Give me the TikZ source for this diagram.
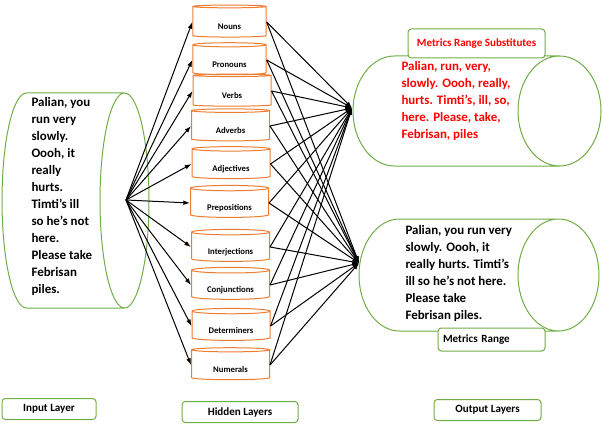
\documentclass[tikz,border=0pt]{standalone}
\usepackage{fontspec}
\setmainfont{Carlito}
\usetikzlibrary{shapes.geometric,arrows.meta}
\definecolor{leafgreen}{RGB}{112,173,71}
\definecolor{canorange}{RGB}{237,125,49}
\definecolor{subred}{RGB}{255,0,0}
\tikzset{every picture/.style={line width=0.75pt}}

\begin{document}
\begin{tikzpicture}[x=0.75pt,y=0.75pt,yscale=-1,xscale=1,
  bigcan/.style={draw=leafgreen},
  wordcan/.style={cylinder, shape border rotate=90, draw=canorange, aspect=0.12, minimum width=58.5pt, minimum height=24pt, inner sep=0pt, text height=11.5pt, text depth=0pt, font=\fontsize{6.5}{7}\selectfont\bfseries},
  tag/.style={draw=leafgreen, rounded corners=2.5pt, minimum height=15.75pt, inner sep=0pt, font=\fontsize{8.3}{10}\selectfont\bfseries},
  bodytext/.style={anchor=north west, inner sep=0pt, align=left, font=\fontsize{9.7}{12.75}\selectfont\bfseries},
  link/.style={-{Latex[length=5pt,width=3.5pt]}}]
\useasboundingbox (0,0) rectangle (603,428);

%Shape: Can [id:input]
\draw [bigcan] (26.5,93) -- (124.5,93) (26.5,308) -- (124.5,308) (124.5,200.5) ellipse (24.5 and 107.5) (26.5,93) arc (270:90:24.5 and 107.5) ;
%Shape: Can [id:substitutes]
\draw [bigcan] (394.5,56) -- (559.5,56) (394.5,166) -- (559.5,166) (559.5,111) ellipse (41.5 and 55) (394.5,56) arc (270:90:41.5 and 55) ;
%Shape: Can [id:range]
\draw [bigcan] (399.5,219) -- (558.5,219) (399.5,331) -- (558.5,331) (558.5,275) ellipse (40.5 and 56) (399.5,219) arc (270:90:40.5 and 56) ;

%Shape: Can [id:words]
\node [wordcan, minimum width=55pt] (nouns) at (229.5,22) {Nouns};
\node [wordcan, minimum width=55pt] (pronouns) at (229.5,60) {Pronouns};
\node [wordcan] (verbs) at (232,91) {Verbs};
\node [wordcan] (adverbs) at (230.5,126) {Adverbs};
\node [wordcan] (adjectives) at (231,164) {Adjectives};
\node [wordcan] (prepositions) at (229.5,203) {Prepositions};
\node [wordcan] (interjections) at (230.5,247) {Interjections};
\node [wordcan] (conjunctions) at (230.5,285) {Conjunctions};
\node [wordcan] (determiners) at (231,326) {Determiners};
\node [wordcan] (numerals) at (230.5,365) {Numerals};

\coordinate (inhub) at (126,200);
\coordinate (subhub) at (352,108);
\coordinate (rangehub) at (359,263);

%Straight Lines [id:input to hidden]
\draw [link] (inhub) -- (nouns.west);
\draw [link] (inhub) -- (pronouns.west);
\draw [link] (inhub) -- (verbs.west);
\draw [link] (inhub) -- (adverbs.west);
\draw [link] (inhub) -- (adjectives.west);
\draw [link] (inhub) -- (prepositions.west);
\draw [link] (inhub) -- (interjections.west);
\draw [link] (inhub) -- (conjunctions.west);
\draw [link] (inhub) -- (determiners.west);
\draw [link] (inhub) -- (numerals.west);
%Straight Lines [id:hidden to substitutes]
\draw [link] (nouns.east) -- (subhub);
\draw [link] (pronouns.east) -- (subhub);
\draw [link] (verbs.east) -- (subhub);
\draw [link] (adverbs.east) -- (subhub);
\draw [link] (adjectives.east) -- (subhub);
\draw [link] (prepositions.east) -- (subhub);
\draw [link] (interjections.east) -- (subhub);
\draw [link] (conjunctions.east) -- (subhub);
\draw [link] (determiners.east) -- (subhub);
\draw [link] (numerals.east) -- (subhub);
%Straight Lines [id:hidden to range]
\draw [link] (nouns.east) -- (rangehub);
\draw [link] (pronouns.east) -- (rangehub);
\draw [link] (verbs.east) -- (rangehub);
\draw [link] (adverbs.east) -- (rangehub);
\draw [link] (adjectives.east) -- (rangehub);
\draw [link] (prepositions.east) -- (rangehub);
\draw [link] (interjections.east) -- (rangehub);
\draw [link] (conjunctions.east) -- (rangehub);
\draw [link] (determiners.east) -- (rangehub);
\draw [link] (numerals.east) -- (rangehub);

% Text Node
\node [bodytext] (intext) at (31,97) {Palian, you\\run very\\slowly.\\Oooh, it\\really\\hurts.\\Timti’s ill\\so he’s not\\here.\\Please take\\Febrisan\\piles.};
% Text Node
\node [bodytext, text=subred] (subtext) at (401,61) {Palian, run, very,\\slowly. Oooh, really,\\hurts. Timti’s, ill, so,\\here. Please, take,\\Febrisan, piles};
% Text Node
\node [bodytext] (rangetext) at (405,225) {Palian, you run very\\slowly. Oooh, it\\really hurts. Timti’s\\ill so he’s not here.\\Please take\\Febrisan piles.};

% Text Node
\node [tag, fill=white, minimum width=102.75pt, minimum height=21.75pt, text=subred] (subtag) at (476.5,43.5) {Metrics Range Substitutes};
% Text Node
\node [tag, fill=white, minimum height=17.25pt, text width=72.75pt, inner xsep=3.75pt, align=left] (rangetag) at (491.5,339.5) {Metrics Range};
% Text Node
\node [tag, minimum width=70.5pt] (inlayer) at (49,409) {Input Layer};
% Text Node
\node [tag, minimum width=87pt] (hiddenlayer) at (240,412) {Hidden Layers};
% Text Node
\node [tag, minimum width=80.25pt] (outlayer) at (487.5,410) {Output Layers};

\end{tikzpicture}
\end{document}
